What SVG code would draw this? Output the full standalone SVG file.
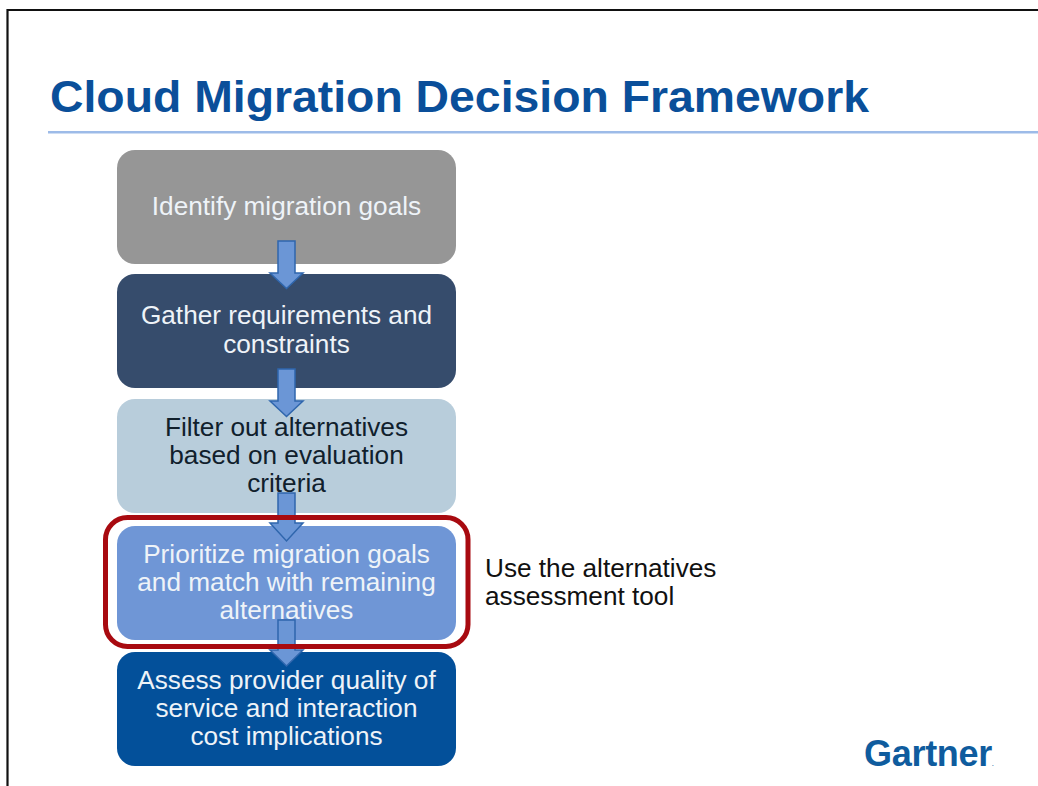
<svg xmlns="http://www.w3.org/2000/svg" width="1038" height="786" viewBox="0 0 1038 786">
<style>
text{font-family:"Liberation Sans",Arial,sans-serif}
.t{font-size:26.200px;text-anchor:middle}
.w{fill:#eef3f8}
.k{fill:#10202c}
.box{stroke:none}
.arr{fill:#6b96d6;stroke:#2f66ad;stroke-width:1.500;stroke-linejoin:miter}
</style>
<defs>
<path id="a" d="M278 0H295V32H303L286.500 47.500L270 32H278Z"/>
</defs>
<rect width="1038" height="786" fill="#fff"/>
<path d="M7.500 786V10H1038" fill="none" stroke="#111" stroke-width="2.200"/>
<text x="50" y="112" font-size="45" font-weight="700" fill="#0a4f9a" textLength="819" lengthAdjust="spacingAndGlyphs">Cloud Migration Decision Framework</text>
<rect x="48" y="131" width="990" height="2.500" fill="#9dbbe8"/>
<g id="n1"><rect class="box" x="117" y="150" width="339" height="114" rx="18" fill="#969696"/><text class="t w" x="286.500" y="215">Identify migration goals</text></g>
<g id="n2"><rect class="box" x="117" y="274" width="339" height="114" rx="18" fill="#364c6c"/><text class="t w" x="286.500" y="324">Gather requirements and</text><text class="t w" x="286.500" y="353">constraints</text></g>
<g id="n3"><rect class="box" x="117" y="399" width="339" height="114" rx="18" fill="#b8cddb"/><text class="t k" x="286.500" y="436">Filter out alternatives</text><text class="t k" x="286.500" y="464">based on evaluation</text><text class="t k" x="286.500" y="492">criteria</text></g>
<g id="n4"><rect class="box" x="117" y="526" width="339" height="114" rx="18" fill="#6f96d6"/><text class="t w" x="286.500" y="563">Prioritize migration goals</text><text class="t w" x="286.500" y="591">and match with remaining</text><text class="t w" x="286.500" y="619">alternatives</text></g>
<g id="n5"><rect class="box" x="117" y="652" width="339" height="114" rx="18" fill="#03509a"/><text class="t w" x="286.500" y="689">Assess provider quality of</text><text class="t w" x="286.500" y="717">service and interaction</text><text class="t w" x="286.500" y="745">cost implications</text></g>
<g id="connectors">
<use href="#a" class="arr" y="241"/>
<use href="#a" class="arr" y="369"/>
<path class="arr" d="M278 493H295V523H303L286.500 541L270 523H278Z"/>
<path class="arr" d="M278 620H295V650H303L286.500 666L270 650H278Z"/>
</g>
<g id="highlight"><rect x="105.500" y="517.500" width="362.500" height="129" rx="22" fill="none" stroke="#a80a10" stroke-width="5"/></g>
<g id="note"><text x="485" y="577" font-size="26.200" fill="#111">Use the alternatives</text><text x="485" y="605" font-size="26.200" fill="#111">assessment tool</text></g>
<g id="logo"><text x="864" y="766" font-size="36" font-weight="700" fill="#0f5c9e" letter-spacing="-0.300">Gartner<tspan font-size="6">.</tspan></text></g>
</svg>
